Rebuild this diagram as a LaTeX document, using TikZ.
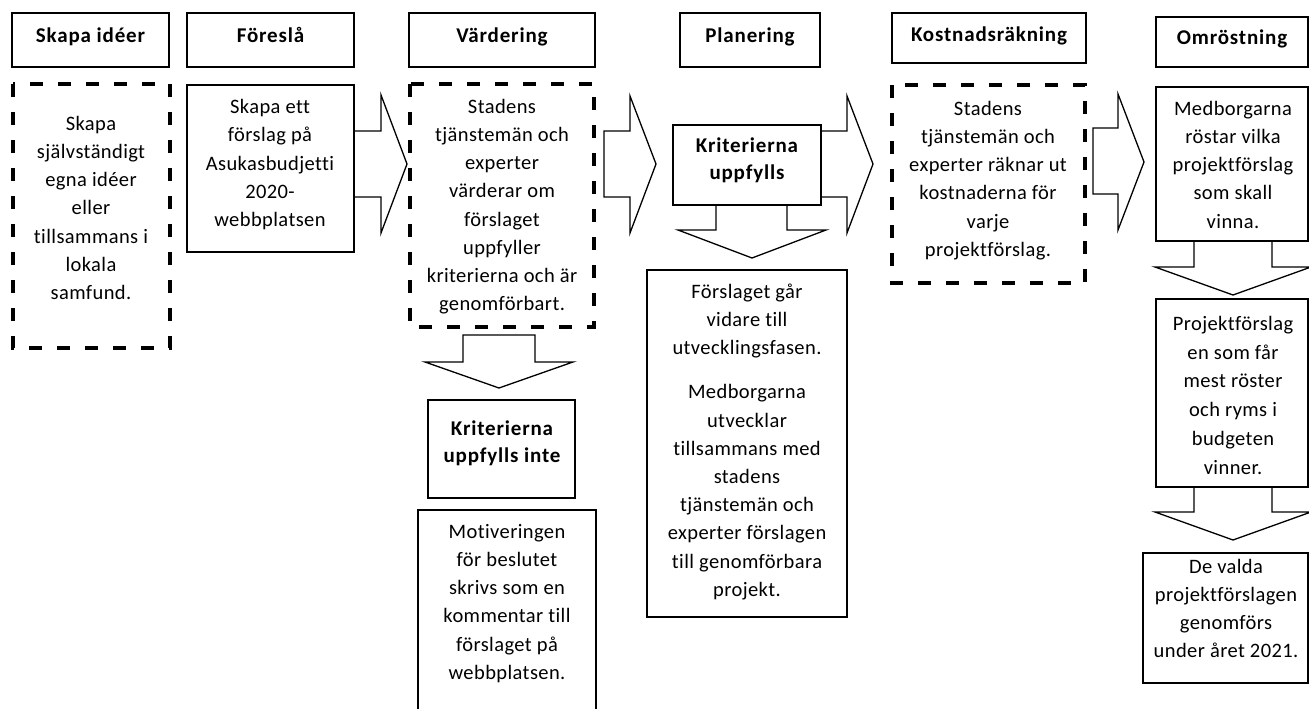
\documentclass[tikz,border=0pt]{standalone}
\usepackage{fontspec}
\setmainfont{Carlito}
\newfontfamily\bodyfam[LetterSpace=2,Ligatures=NoCommon]{Carlito}
\newfontfamily\hdrfam[LetterSpace=4,Ligatures=NoCommon]{Carlito}
\newcommand\bodytxt{\bodyfam\fontsize{20.5}{28.2}\selectfont}
\newcommand\hdrtxt{\hdrfam\bfseries\fontsize{21}{27}\selectfont}
\newcommand\fst{\rule{0pt}{17pt}}
\tikzset{
  box/.style={draw, line width=1.3pt},
  dbox/.style={draw, line width=3.8pt, dash pattern=on 13pt off 15pt},
  barrow/.style={draw, line width=1.3pt, fill=white, line join=miter},
  txt/.style={align=center, font=\bodytxt, inner sep=0pt, anchor=north},
  btxt/.style={align=center, font=\hdrtxt, inner sep=0pt, anchor=north},
  hdr/.style={font=\hdrtxt, inner sep=0pt, anchor=base},
}
\begin{document}
\begin{tikzpicture}[x=1pt,y=-1pt]
\useasboundingbox (0,0) rectangle (1309,709);
\clip (0,0) rectangle (1309,709);
\fill[white] (0,0) rectangle (1309,709);

% block arrows (right)
\draw[barrow] (354,131) -- (381,131) -- (381,95) -- (407,164) -- (381,233) -- (381,197) -- (354,197) -- cycle;
\draw[barrow] (604,131) -- (630,131) -- (630,96) -- (656,164) -- (630,233) -- (630,197) -- (604,197) -- cycle;
\draw[barrow] (821,131) -- (847,131) -- (847,96) -- (873,164) -- (847,233) -- (847,197) -- (821,197) -- cycle;
\draw[barrow] (1093,128) -- (1118,128) -- (1118,94) -- (1144,162) -- (1118,230) -- (1118,194) -- (1093,194) -- cycle;
% block arrows (down)
\draw[barrow] (463,335) -- (535,335) -- (535,362) -- (573,362) -- (499,388) -- (425,362) -- (463,362) -- cycle;
\draw[barrow] (716,205) -- (787,205) -- (787,230) -- (826,230) -- (752,258) -- (678,230) -- (716,230) -- cycle;
\draw[barrow] (1194,241) -- (1272,241) -- (1272,267) -- (1311,267) -- (1233,295) -- (1155,267) -- (1194,267) -- cycle;
\draw[barrow] (1194,487) -- (1272,487) -- (1272,512) -- (1311,512) -- (1233,540) -- (1155,512) -- (1194,512) -- cycle;

% header boxes
\draw[box] (12,13) rectangle (169,67);
\draw[box] (187,13) rectangle (354,67);
\draw[box] (409,13) rectangle (595,67);
\draw[box] (680,13) rectangle (820,67);
\draw[box] (892,13) rectangle (1086,63);
\draw[box] (1156,17) rectangle (1308,67);

% content boxes
\draw[dbox] (13,84) rectangle (170,348);
\draw[box] (187,85) rectangle (354,252);
\draw[dbox] (410,84) rectangle (594,327);
\draw[box] (673,125) rectangle (821,205);
\draw[box] (647,270) rectangle (847,617);
\draw[dbox] (892,85) rectangle (1085,283);
\draw[box] (1156,87) rectangle (1308,241);
\draw[box] (1156,299) rectangle (1308,487);
\draw[box] (1143,553) rectangle (1308,683);
\draw[box] (428,400) rectangle (575,498);
\draw[box] (418,715) -- (418,510) -- (596,510) -- (596,715);

% headers
\node[hdr] (h1) at (90.5,43) {Skapa idéer};
\node[hdr] (h2) at (270.5,43) {Föreslå};
\node[hdr] (h3) at (502,43) {Värdering};
\node[hdr] (h4) at (750,43) {Planering};
\node[hdr] (h5) at (989,42) {Kostnadsräkning};
\node[hdr] (h6) at (1232,45) {Omröstning};

% texts
\node[txt] (t1) at (91,113) {\fst Skapa\\självständigt\\egna idéer\\eller\\tillsammans i\\lokala\\samfund.};
\node[txt] (t2) at (270,96.5) {\fst Skapa ett\\förslag på\\Asukasbudjetti\\2020-\\webbplatsen};
\node[txt] (t3) at (502,96) {\fst Stadens\\tjänstemän och\\experter\\värderar om\\förslaget\\uppfyller\\kriterierna och är\\genomförbart.};
\node[btxt] (t4) at (747,135.7) {\fst Kriterierna\\uppfylls};
\node[txt] (t5) at (747,281) {\fst Förslaget går\\vidare till\\utvecklingsfasen.\\[16pt]Medborgarna\\utvecklar\\tillsammans med\\stadens\\tjänstemän och\\experter förslagen\\till genomförbara\\projekt.};
\node[txt] (t6) at (988,98) {\fst Stadens\\tjänstemän och\\experter räknar ut\\kostnaderna för\\varje\\projektförslag.};
\node[txt] (t7) at (1233,98) {\fst Medborgarna\\röstar vilka\\projektförslag\\som skall\\vinna.};
\node[txt, font=\bodyfam\fontsize{20.5}{28.8}\selectfont] (t8) at (1233,313) {\fst Projektförslag\\en som får\\mest röster\\och ryms i\\budgeten\\vinner.};
\node[txt] (t9) at (1226,556) {\fst De valda\\projektförslagen\\genomförs\\under året 2021.};
\node[btxt] (t10) at (502,418) {\fst Kriterierna\\uppfylls inte};
\node[txt] (t11) at (507,521) {\fst Motiveringen\\för beslutet\\skrivs som en\\kommentar till\\förslaget på\\webbplatsen.};
\end{tikzpicture}
\end{document}
